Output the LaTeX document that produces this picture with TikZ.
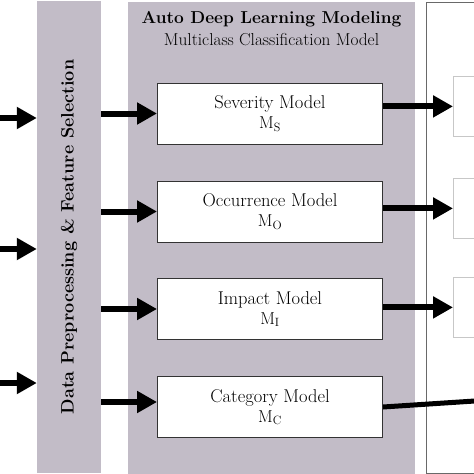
\documentclass[tikz,border=0pt]{standalone}
\usetikzlibrary{arrows.meta,positioning,calc}
\definecolor{panelgray}{RGB}{194,188,199}
\definecolor{framegray}{RGB}{105,105,105}

\begin{document}
\begin{tikzpicture}[x=1pt,y=-1pt,
    panel/.style={fill=panelgray, draw=none, inner sep=0pt},
    model/.style={draw=black!80, fill=white, line width=1pt, minimum width=225pt, minimum height=61pt, align=center, font=\fontsize{18.5}{20}\selectfont},
    flow/.style={line width=6pt, -{Triangle[length=20pt,width=21pt]}},
    outbox/.style={draw=black!22, line width=0.8pt, fill=white, minimum width=60pt, minimum height=60pt, anchor=north west}]

    \useasboundingbox (0,0) rectangle (474,474);
    \clip (0,0) rectangle (474,474);

    % panels
    \node [panel, rotate=90, minimum width=472pt, minimum height=64pt, font=\bfseries\fontsize{18}{20}\selectfont] (prep) at (69,237) {Data Preprocessing \& Feature Selection};
    \node [panel, minimum width=287pt, minimum height=472pt] (dl) at (271.5,238) {};
    \node [align=center, font=\fontsize{17.3}{22}\selectfont] (title) at (271.5,29) {\textbf{Auto Deep Learning Modeling}\\Multiclass Classification Model};
    \node [draw=framegray, line width=1.3pt, fill=white, minimum width=100pt, minimum height=471pt, anchor=north west] (res) at (426,2) {};

    % models
    \foreach \n/\t/\y in {S/Severity/113.5, O/Occurrence/211.5, I/Impact/309, C/Category/407}
        \node [model] (m\n) at (270,\y) {\t\ Model\\$\mathrm{M_{\n}}$};

    % result boxes
    \node [outbox] (r1) at (453,76) {};
    \node [outbox] (r2) at (453,178) {};
    \node [outbox] (r3) at (453,277) {};

    % inputs
    \coordinate (in1) at (0,118);
    \coordinate (in2) at (0,249);
    \coordinate (in3) at (0,383);
    \foreach \c in {in1,in2,in3}
        \draw [flow] (\c) -- (\c -| prep.north);

    \foreach \n in {S,O,I}
        \draw [flow] (m\n.west -| prep.south) -- (m\n.west);
    \draw [flow] ([yshift=5pt]mC.west -| prep.south) -- ([yshift=5pt]mC.west);

    \draw [flow] (r1.west -| mS.east) -- (r1.west);
    \draw [flow] (r2.west -| mO.east) -- (r2.west);
    \draw [flow] (r3.west -| mI.east) -- (r3.west);

    \coordinate (cEnd) at (490,400);
    \draw [line width=5pt] (mC.east) -- (cEnd);

\end{tikzpicture}
\end{document}
